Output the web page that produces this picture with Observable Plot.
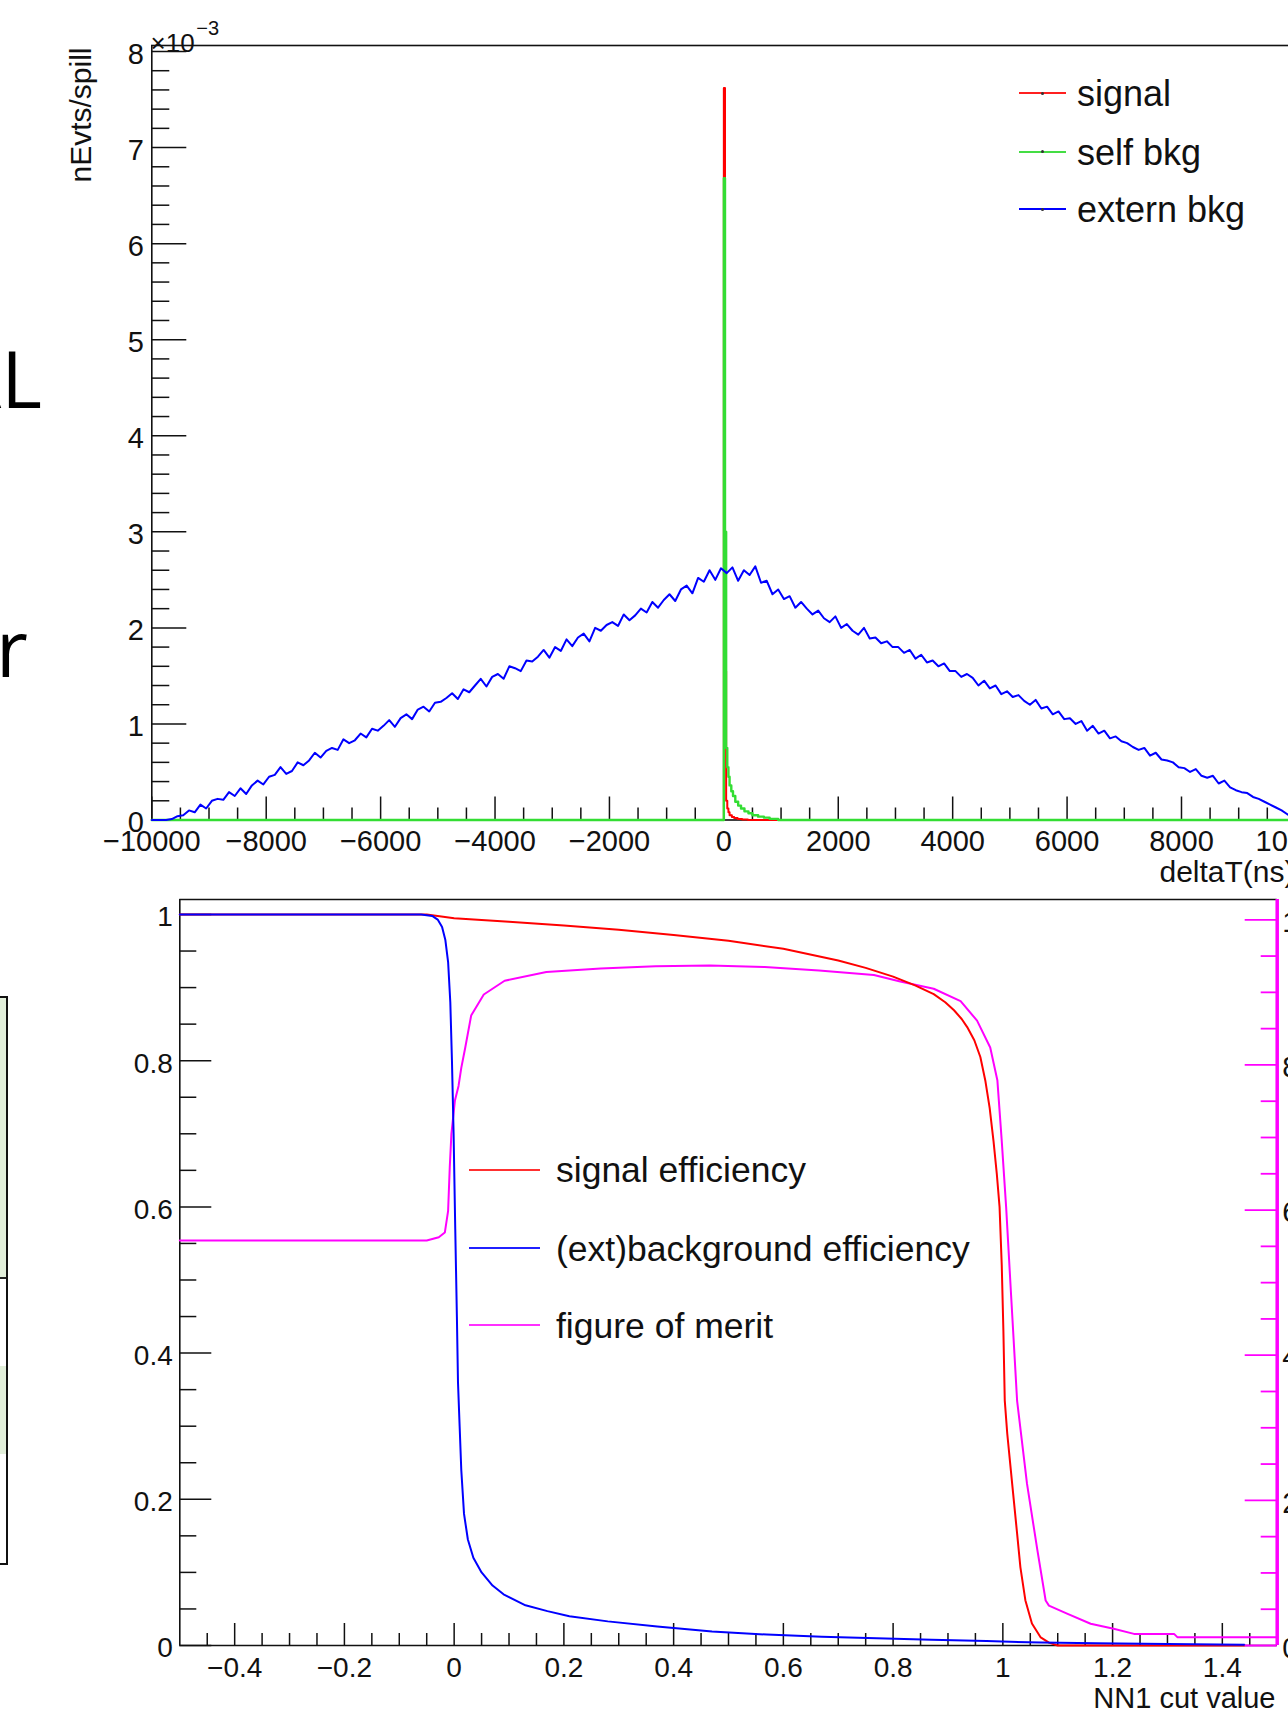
<!DOCTYPE html>
<html>
<head>
<meta charset="utf-8">
<script src="https://cdn.jsdelivr.net/npm/d3@7"></script>
<script src="https://cdn.jsdelivr.net/npm/@observablehq/plot@0.6"></script>
<style>
  html, body { margin: 0; padding: 0; background: #fff; }
  body { width: 1288px; height: 1712px; overflow: hidden; position: relative;
         font-family: "Liberation Sans", Arial, Helvetica, sans-serif; color: #111; }
  #top { position: absolute; left: 0; top: 0; }
  #bottom { position: absolute; left: 0; top: 890px; }
  .leg { position: absolute; white-space: nowrap; line-height: 1; color: #111; }
  .legline { position: absolute; height: 2px; }
  .legdot { position: absolute; width: 3px; height: 3px; background: #333; border-radius: 50%; }
  .slide { position: absolute; white-space: nowrap; line-height: 1; font-family: "Open Sans", "Noto Sans", sans-serif; color: #000; }
</style>
</head>
<body>
<div id="top"></div>
<div id="bottom"></div>

<!-- legends -->
<div class="legline" style="left:1019px;top:92.3px;width:47px;background:#ff2020"></div>
<div class="legdot" style="left:1041px;top:91.8px"></div>
<div class="leg" style="left:1077px;top:76.2px;font-size:36px">signal</div>
<div class="legline" style="left:1019px;top:150.7px;width:47px;background:#44dd44"></div>
<div class="legdot" style="left:1041px;top:150.2px"></div>
<div class="leg" style="left:1077px;top:134.6px;font-size:36px">self bkg</div>
<div class="legline" style="left:1019px;top:208.3px;width:47px;background:#0000ff"></div>
<div class="legdot" style="left:1041px;top:207.8px"></div>
<div class="leg" style="left:1077px;top:192.2px;font-size:36px">extern bkg</div>

<div class="legline" style="left:469px;top:1168.5px;width:71px;background:#ff3030"></div>
<div class="leg" style="left:556px;top:1153.4px;font-size:35.5px">signal efficiency</div>
<div class="legline" style="left:469px;top:1247px;width:71px;background:#2020ff"></div>
<div class="leg" style="left:556px;top:1231.7px;font-size:35.5px">(ext)background efficiency</div>
<div class="legline" style="left:469px;top:1324px;width:71px;background:#ff30ff"></div>
<div class="leg" style="left:556px;top:1308.7px;font-size:35.5px">figure of merit</div>

<script>
// ================= DATA : top panel (nEvts/spill, in units of 1e-3) =================
const dtBinStart = -10000;
const dtBinWidth = 100;
// extern bkg, bins from -10000 to 0
const externLeft = [
  0,0,0,0.01,0.04,0.05,0.1,0.08,0.16,0.12,
  0.2,0.22,0.21,0.29,0.25,0.33,0.27,0.36,0.41,0.37,
  0.45,0.47,0.55,0.48,0.51,0.6,0.57,0.62,0.7,0.65,
  0.72,0.75,0.73,0.84,0.8,0.83,0.9,0.86,0.95,0.93,
  0.98,1.04,0.97,1.06,1.1,1.05,1.15,1.18,1.13,1.22,
  1.23,1.27,1.32,1.26,1.36,1.33,1.4,1.47,1.39,1.49,
  1.52,1.47,1.6,1.58,1.55,1.66,1.65,1.7,1.77,1.69,
  1.8,1.76,1.88,1.81,1.9,1.94,1.86,2.0,1.97,2.03,
  2.06,2.02,2.14,2.08,2.13,2.2,2.16,2.27,2.21,2.29,
  2.35,2.28,2.4,2.44,2.36,2.52,2.48,2.6,2.5,2.62
];
// extern bkg, bins from 0 to 10000
const externRight = [
  2.57,2.63,2.49,2.6,2.55,2.64,2.47,2.49,2.35,2.4,
  2.3,2.33,2.21,2.27,2.2,2.14,2.18,2.1,2.06,2.12,
  2.0,2.04,1.97,1.93,2.0,1.89,1.9,1.84,1.86,1.8,
  1.8,1.74,1.77,1.68,1.72,1.64,1.66,1.6,1.63,1.55,
  1.55,1.49,1.52,1.48,1.4,1.45,1.37,1.4,1.31,1.34,
  1.28,1.3,1.24,1.2,1.25,1.16,1.18,1.1,1.13,1.05,
  1.06,1.0,1.03,0.93,0.98,0.9,0.93,0.85,0.87,0.82,
  0.8,0.76,0.73,0.75,0.67,0.7,0.63,0.62,0.6,0.55,
  0.54,0.5,0.53,0.46,0.44,0.46,0.38,0.41,0.34,0.31,
  0.29,0.28,0.24,0.22,0.19,0.16,0.13,0.1,0.06,0.03
];
// signal histogram (bin low edges, contents)
const signalT = [-10000, 0, 20, 40, 60, 80, 100, 140, 180, 240, 320, 420, 10000];
const signalV = [0, 7.62, 1.55, 0.2, 0.12, 0.08, 0.05, 0.03, 0.02, 0.01, 0.005, 0, 0];
// self bkg histogram
const selfT = [-10000, 0, 20, 40, 60, 80, 100, 130, 160, 200, 250, 300, 360, 430, 500, 600, 700, 800, 950, 10000];
const selfV = [0, 6.68, 3.0, 0.75, 0.55, 0.45, 0.36, 0.3, 0.25, 0.19, 0.15, 0.12, 0.09, 0.07, 0.05, 0.035, 0.025, 0.012, 0, 0];

const topXTicks = [-10000, -8000, -6000, -4000, -2000, 0, 2000, 4000, 6000, 8000, 10000];
const topYTicks = [0, 1, 2, 3, 4, 5, 6, 7, 8];
const topYExponent = "−3";
const topYTitle = "nEvts/spill";
const topXTitle = "deltaT(ns)";

// ================= DATA : bottom panel (efficiencies vs NN1 cut) =================
const sigEffX = [-0.5,-0.05,0,0.1,0.2,0.3,0.4,0.5,0.6,0.7,
  0.75,0.8,0.84,0.874,0.895,0.911,0.925,0.935,0.948,0.959,
  0.968,0.976,0.983,0.989,0.994,0.998,1.001,1.0035,1.008,1.017,
  1.026,1.032,1.041,1.053,1.069,1.084,1.1,1.44];
const sigEffY = [1,1,0.995,0.99,0.985,0.979,0.972,0.964,0.953,0.937,
  0.927,0.915,0.903,0.891,0.88,0.869,0.857,0.846,0.828,0.805,
  0.773,0.735,0.69,0.645,0.6,0.52,0.43,0.335,0.29,0.221,
  0.153,0.107,0.062,0.03,0.011,0.004,0,0];

const bkgEffX = [-0.5,-0.06,-0.04,-0.03,-0.022,-0.016,-0.011,-0.007,-0.004,-0.001,
  0.002,0.005,0.007,0.01,0.013,0.018,0.025,0.035,0.05,0.07,
  0.09,0.13,0.17,0.21,0.28,0.37,0.47,0.57,0.67,0.77,
  0.87,0.97,1.07,1.17,1.3,1.44];
const bkgEffY = [1,1,0.998,0.993,0.983,0.965,0.935,0.88,0.8,0.7,
  0.57,0.45,0.36,0.3,0.24,0.18,0.145,0.12,0.1,0.082,
  0.07,0.055,0.047,0.04,0.033,0.026,0.019,0.015,0.012,0.01,
  0.008,0.006,0.004,0.003,0.002,0.001];

// figure of merit, in right-axis units
const fomX = [-0.5,-0.05,-0.028,-0.017,-0.011,-0.008,-0.005,0.0014,0.008,0.013,
  0.02,0.031,0.054,0.092,0.168,0.267,0.367,0.466,0.566,0.665,
  0.765,0.813,0.874,0.923,0.953,0.977,0.99,0.998,1.006,1.015,
  1.026,1.044,1.063,1.078,1.084,1.117,1.16,1.202,1.239,1.312,
  1.318,1.5];
const fomV = [5.58,5.58,5.625,5.69,5.99,6.59,7.05,7.51,7.71,7.96,
  8.23,8.68,8.97,9.16,9.28,9.33,9.36,9.37,9.35,9.30,
  9.24,9.15,9.05,8.88,8.61,8.24,7.79,6.95,6.04,4.83,
  3.37,2.23,1.31,0.62,0.55,0.44,0.30,0.23,0.16,0.16,
  0.115,0.115];
const fomToLeft = 0.099275;   // right-axis unit expressed on the left axis

const botXTicks = [-0.4, -0.2, 0, 0.2, 0.4, 0.6, 0.8, 1, 1.2, 1.4];
const botYTicks = [0, 0.2, 0.4, 0.6, 0.8, 1];
const fomTicks = [0, 2, 4, 6, 8, 10];
const botXTitle = "NN1 cut value";

// ================= helpers =================
const RED = "#ff0000", GREEN = "#33dd33", BLUE = "#0000ff", MAGENTA = "#ff00ff", INK = "#111";
const FONT = "'Liberation Sans', Arial, Helvetica, sans-serif";
const fmt = d => d < 0 ? "−" + String(-d) : String(d);
const near = (a, b) => Math.abs(a - b) < 1e-6;

// ================= TOP PANEL =================
{
  const W = 1340, H = 890;
  const mL = 151.3, mR = W - 1295.4, mT = 45, mB = H - 819.5;
  const FW = W - mL - mR, FH = H - mT - mB;
  const yMax = 8.0625;

  const externV = externLeft.concat(externRight);
  const externData = externV.map((v, i) => ({t: dtBinStart + (i + 0.5) * dtBinWidth, v}));
  externData.unshift({t: dtBinStart, v: externV[0]});
  externData.push({t: dtBinStart + externV.length * dtBinWidth, v: 0});
  const signalData = signalT.map((t, i) => ({t, v: signalV[i]}));
  const selfData = selfT.map((t, i) => ({t, v: selfV[i]}));

  const xMinor = d3.range(-10000, 10001, 500).filter(v => !topXTicks.some(m => near(m, v)));
  const yMinor = d3.range(0, 8.0001, 0.2).filter(v => !topYTicks.some(m => near(m, v)));

  const chart = Plot.plot({
    width: W, height: H,
    marginLeft: mL, marginRight: mR, marginTop: mT, marginBottom: mB,
    x: {domain: [-10000, 10000]},
    y: {domain: [0, yMax]},
    style: {background: "transparent", overflow: "visible", maxWidth: "none", fontFamily: FONT, fontSize: "29px", color: INK},
    marks: [
      Plot.frame({stroke: INK, strokeWidth: 1.6}),
      Plot.tickY(topYTicks, {stroke: INK, strokeWidth: 1.5, insetRight: FW - 35}),
      Plot.tickY(yMinor, {stroke: INK, strokeWidth: 1.5, insetRight: FW - 18}),
      Plot.tickX(topXTicks, {stroke: INK, strokeWidth: 1.5, insetTop: FH - 23}),
      Plot.tickX(xMinor, {stroke: INK, strokeWidth: 1.5, insetTop: FH - 12}),
      Plot.line(signalData, {x: "t", y: "v", curve: "step-after", stroke: RED, strokeWidth: 2}),
      Plot.line(selfData, {x: "t", y: "v", curve: "step-after", stroke: GREEN, strokeWidth: 2.4}),
      Plot.line(externData, {x: "t", y: "v", stroke: BLUE, strokeWidth: 2}),
      Plot.axisY(topYTicks, {tickSize: 0, tickPadding: 8, dy: 3, tickFormat: fmt, fontSize: 29, label: null}),
      Plot.axisX(topXTicks, {tickSize: 0, tickPadding: 10, tickFormat: fmt, fontSize: 29, label: null}),
      Plot.text(["×10"], {frameAnchor: "top-left", text: d => d, dx: -1.3, dy: -12, textAnchor: "start", fontSize: 26, fill: INK}),
      Plot.text([topYExponent], {frameAnchor: "top-left", text: d => d, dx: 44.5, dy: -25, textAnchor: "start", fontSize: 20, fill: INK}),
      Plot.text([topYTitle], {frameAnchor: "top-left", text: d => d, dx: -82.3, dy: 2, rotate: -90, textAnchor: "end", fontSize: 30, fill: INK}),
      Plot.text([topXTitle], {frameAnchor: "bottom-right", text: d => d, dx: -1.4, dy: 61.5, textAnchor: "end", fontSize: 30, fill: INK})
    ]
  });
  document.getElementById("top").appendChild(chart);
}

// ================= BOTTOM PANEL =================
{
  const W = 1340, H = 822;
  const mL = 179.3, mR = W - 1276.7, mT = 9, mB = H - 755;
  const FW = W - mL - mR, FH = H - mT - mB;
  const yMax = 1.0205;

  const sigData = sigEffX.map((x, i) => ({x, y: sigEffY[i]}));
  const bkgData = bkgEffX.map((x, i) => ({x, y: bkgEffY[i]}));
  const fomData = fomX.map((x, i) => ({x, v: fomV[i]}));

  const xMinor = d3.range(-0.45, 1.4501, 0.05).filter(v => !botXTicks.some(m => near(m, v)));
  const yMinor = d3.range(0, 1.0001, 0.05).filter(v => !botYTicks.some(m => near(m, v)));
  const fomMinor = d3.range(0, 10.0001, 0.5).filter(v => !fomTicks.some(m => near(m, v)));

  const chart = Plot.plot({
    width: W, height: H,
    marginLeft: mL, marginRight: mR, marginTop: mT, marginBottom: mB,
    x: {domain: [-0.5, 1.5]},
    y: {domain: [0, yMax]},
    style: {background: "transparent", overflow: "visible", maxWidth: "none", fontFamily: FONT, fontSize: "28px", color: INK},
    marks: [
      Plot.ruleY([yMax], {stroke: INK, strokeWidth: 1.6}),
      Plot.ruleY([0], {stroke: INK, strokeWidth: 1.6}),
      Plot.ruleX([-0.5], {stroke: INK, strokeWidth: 1.6}),
      Plot.tickY(botYTicks, {stroke: INK, strokeWidth: 1.5, insetRight: FW - 32}),
      Plot.tickY(yMinor, {stroke: INK, strokeWidth: 1.5, insetRight: FW - 17}),
      Plot.tickX(botXTicks, {stroke: INK, strokeWidth: 1.5, insetTop: FH - 22}),
      Plot.tickX(xMinor, {stroke: INK, strokeWidth: 1.5, insetTop: FH - 12}),
      Plot.line(fomData, {x: "x", y: d => d.v * fomToLeft, stroke: MAGENTA, strokeWidth: 2}),
      Plot.line(sigData, {x: "x", y: "y", stroke: RED, strokeWidth: 2}),
      Plot.line(bkgData, {x: "x", y: "y", stroke: BLUE, strokeWidth: 2}),
      Plot.ruleX([1.5], {stroke: MAGENTA, strokeWidth: 3.5}),
      Plot.tickY(fomTicks, {y: d => d * fomToLeft, stroke: MAGENTA, strokeWidth: 1.8, insetLeft: FW - 32}),
      Plot.tickY(fomMinor, {y: d => d * fomToLeft, stroke: MAGENTA, strokeWidth: 1.8, insetLeft: FW - 16}),
      Plot.axisY(botYTicks, {anchor: "left", tickSize: 0, tickPadding: 7, dy: 3, tickFormat: fmt, fontSize: 28, label: null}),
      Plot.axisY(fomTicks.map(v => v * fomToLeft), {anchor: "right", tickSize: 0, tickPadding: 5, dy: 3, tickFormat: d => String(Math.round(d / fomToLeft)), fontSize: 29, label: null}),
      Plot.axisX(botXTicks, {tickSize: 0, tickPadding: 12, tickFormat: fmt, fontSize: 28, label: null}),
      Plot.text([botXTitle], {frameAnchor: "bottom-right", text: d => d, dx: -1.7, dy: 62, textAnchor: "end", fontSize: 29, fill: INK})
    ]
  });
  document.getElementById("bottom").appendChild(chart);
}
</script>

<!-- fragments of the surrounding slide -->
<div class="slide" style="right:1246px;top:338.7px;font-size:78px">AL</div>
<div class="slide" style="right:1260px;top:607.7px;font-size:78px">r</div>
<div style="position:absolute;left:-4px;top:997px;width:10px;height:282px;background:#e2efda"></div>
<div style="position:absolute;left:-4px;top:1366px;width:10px;height:88px;background:#e2efda"></div>
<div style="position:absolute;left:-4px;top:1277px;width:10px;height:2px;background:#222"></div>
<div style="position:absolute;left:-4px;top:996px;width:10px;height:565px;border:2.5px solid #111;border-left:none;"></div>
</body>
</html>
